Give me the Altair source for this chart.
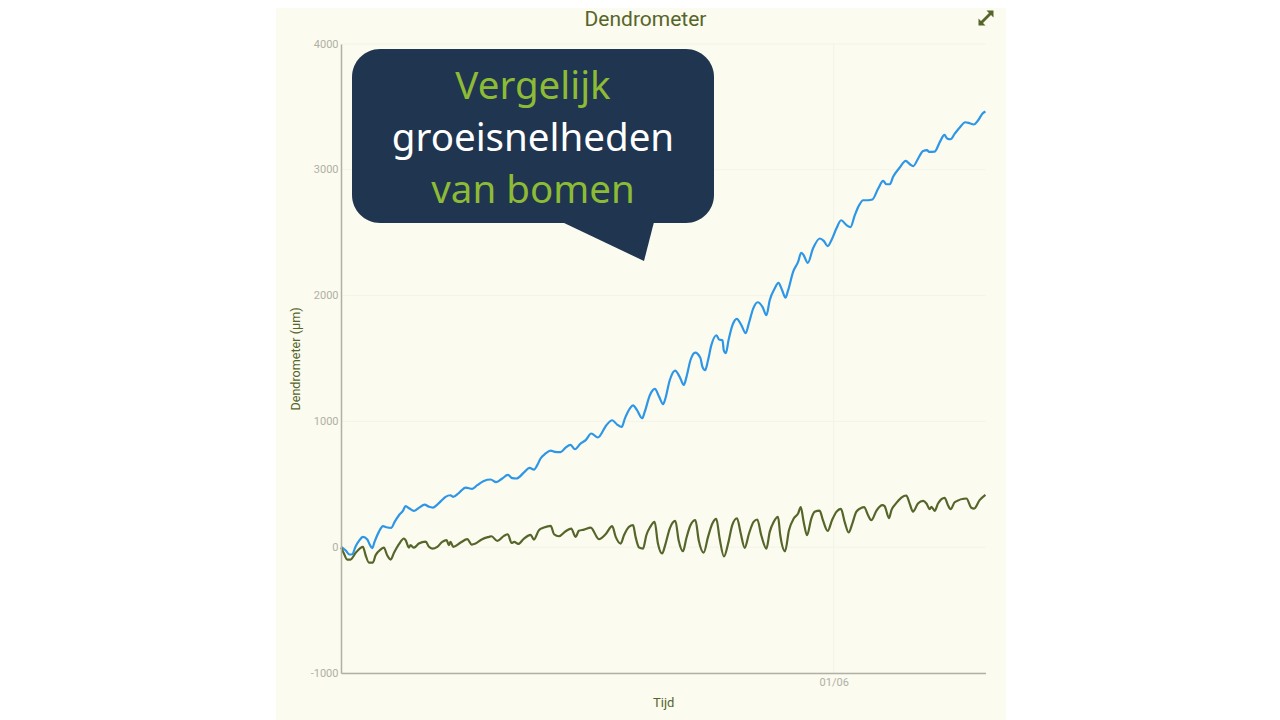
import altair as alt
import pandas as pd

# dagen t.o.v. 1 juni
blauw_dag = [-23.79, -23.58, -23.39, -23.26, -23.09, -22.93, -22.74, -22.53, -22.42, -22.29, -22.18, -21.97, -21.77, -21.61, -21.37, -21.21, -21.00, -20.81, -20.68, -20.49, -20.28, -20.04, -19.76, -19.55, -19.36, -19.15, -18.96, -18.75, -18.51, -18.39, -18.10, -17.78, -17.46, -17.22, -16.90, -16.57, -16.30, -16.01, -15.74, -15.53, -15.33, -14.96, -14.69, -14.48, -14.32, -14.16, -13.92, -13.67, -13.47, -13.19, -12.95, -12.71, -12.50, -12.23, -11.98, -11.71, -11.39, -10.98, -10.70, -10.46, -10.24, -10.09, -9.85, -9.69, -9.50, -9.25, -9.13, -8.88, -8.64, -8.43, -8.24, -8.13, -7.92, -7.66, -7.44, -7.24, -7.11, -6.92, -6.69, -6.44, -6.34, -6.21, -6.07, -5.91, -5.66, -5.54, -5.37, -5.31, -5.21, -5.08, -4.89, -4.68, -4.46, -4.25, -4.10, -3.89, -3.67, -3.44, -3.25, -3.09, -2.85, -2.67, -2.49, -2.33, -2.20, -1.96, -1.72, -1.57, -1.45, -1.25, -1.00, -0.67, -0.48, -0.29, -0.11, 0.13, 0.36, 0.62, 0.81, 1.02, 1.23, 1.42, 1.66, 1.87, 2.15, 2.39, 2.55, 2.71, 2.87, 3.19, 3.48, 3.68, 3.84, 4.08, 4.32, 4.51, 4.61, 4.88, 5.13, 5.35, 5.48, 5.64, 5.85, 6.09, 6.35, 6.57, 6.77, 6.98, 7.19, 7.33]
blauw_um = [3, -24, -58, -56, 8, 50, 82, 61, 24, -8, 42, 122, 167, 159, 154, 201, 254, 289, 326, 307, 289, 313, 339, 321, 315, 339, 368, 400, 413, 400, 432, 474, 464, 493, 527, 538, 517, 546, 575, 549, 546, 594, 631, 617, 652, 705, 745, 768, 758, 755, 792, 813, 779, 824, 851, 904, 872, 970, 1009, 975, 956, 1022, 1102, 1128, 1089, 1025, 1075, 1208, 1258, 1195, 1137, 1182, 1327, 1404, 1354, 1290, 1354, 1486, 1547, 1505, 1433, 1407, 1486, 1606, 1685, 1651, 1645, 1566, 1542, 1645, 1765, 1815, 1765, 1701, 1778, 1897, 1947, 1910, 1844, 1963, 2056, 2101, 2043, 1984, 2043, 2189, 2268, 2340, 2321, 2260, 2374, 2454, 2435, 2393, 2440, 2533, 2599, 2560, 2544, 2639, 2719, 2758, 2758, 2764, 2851, 2912, 2885, 2885, 2944, 3018, 3071, 3044, 3029, 3090, 3150, 3156, 3143, 3145, 3222, 3278, 3249, 3243, 3288, 3336, 3378, 3370, 3360, 3394, 3447, 3463]

groen_dag = [-23.79, -23.66, -23.50, -23.34, -23.09, -22.74, -22.61, -22.45, -22.26, -22.13, -21.89, -21.73, -21.57, -21.40, -21.24, -21.00, -20.76, -20.68, -20.52, -20.44, -20.28, -20.04, -19.71, -19.55, -19.39, -19.15, -18.91, -18.70, -18.59, -18.51, -18.38, -18.02, -17.70, -17.49, -17.30, -16.98, -16.65, -16.53, -16.25, -15.93, -15.74, -15.56, -15.43, -15.24, -14.96, -14.64, -14.48, -14.24, -14.00, -13.67, -13.51, -13.27, -12.95, -12.68, -12.47, -12.31, -12.06, -11.74, -11.34, -11.02, -10.70, -10.53, -10.29, -10.13, -9.89, -9.69, -9.57, -9.40, -9.21, -9.05, -8.86, -8.65, -8.49, -8.29, -8.12, -7.92, -7.65, -7.49, -7.28, -7.12, -6.92, -6.68, -6.52, -6.28, -6.07, -5.86, -5.67, -5.51, -5.30, -5.10, -4.90, -4.67, -4.49, -4.30, -4.09, -3.87, -3.69, -3.50, -3.25, -3.09, -2.90, -2.69, -2.58, -2.35, -2.16, -1.93, -1.72, -1.59, -1.45, -1.29, -1.08, -0.92, -0.68, -0.52, -0.29, -0.08, 0.13, 0.35, 0.53, 0.72, 0.90, 1.09, 1.34, 1.47, 1.66, 1.82, 2.06, 2.35, 2.46, 2.67, 2.79, 3.03, 3.27, 3.51, 3.67, 3.83, 4.07, 4.32, 4.48, 4.64, 4.72, 4.88, 5.04, 5.36, 5.52, 5.65, 5.85, 6.41, 6.65, 6.78, 7.05, 7.33]
groen_um = [-2, -50, -98, -98, -45, 3, -64, -122, -122, -64, -19, -3, -64, -98, -45, 24, 69, 56, -3, 16, -3, 29, 45, 3, -11, 3, 42, 56, 16, 42, 3, 37, 64, 21, 29, 64, 82, 87, 50, 90, 103, 34, 42, 26, 69, 98, 61, 135, 156, 170, 103, 87, 127, 148, 82, 130, 140, 156, 64, 103, 167, 82, 29, 95, 162, 175, 82, -3, -11, 95, 162, 201, 29, -50, 29, 148, 209, 56, -32, 69, 175, 215, 56, -43, 82, 188, 225, 69, -74, 29, 175, 230, 109, -5, 109, 201, 220, 95, -11, 122, 201, 241, 95, -32, 135, 228, 268, 318, 201, 95, 228, 281, 291, 215, 130, 215, 281, 305, 201, 117, 188, 281, 313, 318, 254, 215, 289, 334, 326, 231, 294, 352, 395, 411, 347, 283, 347, 368, 347, 302, 321, 289, 347, 392, 334, 302, 358, 387, 313, 307, 374, 416]

y_ticks = [-1000, 0, 1000, 2000, 3000, 4000]
callout_regels = ["Vergelijk", "groeisnelheden", "van bomen"]
callout_kleuren = ["#8DBB35", "#FFFFFF", "#8DBB35"]

PANEEL = "#FBFBF0"
OLIJF = "#56652A"
BLAUW = "#2E96E6"
GRIJS = "#B0B0A4"
GRID = "#F3F3E6"
FONT = "Roboto"

juni = pd.Timestamp("2023-06-01")
df = pd.concat([
    pd.DataFrame({"dag": blauw_dag, "um": blauw_um, "boom": "blauw"}),
    pd.DataFrame({"dag": groen_dag, "um": groen_um, "boom": "groen"}),
])
df["tijd"] = juni + pd.to_timedelta(df["dag"], unit="D")

x_scale = alt.Scale(domain=[alt.DateTime(year=2023, month=5, date=8, hours=4, minutes=48),
                            alt.DateTime(year=2023, month=6, date=8, hours=8)], nice=False)
y_scale = alt.Scale(domain=[-1000, 4000], nice=False)
x_axis = alt.Axis(
    title="Tijd", values=[alt.DateTime(year=2023, month=6, date=1)], format="%d/%m",
    grid=False, ticks=False, domainColor=GRIJS, domainWidth=1.5, zindex=1,
    labelColor=GRIJS, labelFont=FONT, labelFontSize=11, labelPadding=3,
    titleColor=OLIJF, titleFont=FONT, titleFontSize=13, titleFontWeight="normal", titlePadding=9,
)
y_axis = alt.Axis(
    title="Dendrometer (µm)", values=y_ticks, labelExpr="'' + datum.value",
    grid=False, ticks=False, domainColor=GRIJS, domainWidth=1.5, zindex=1,
    labelColor=GRIJS, labelFont=FONT, labelFontSize=11, labelPadding=3,
    titleColor=OLIJF, titleFont=FONT, titleFontSize=12.6, titleFontWeight="normal", titlePadding=8,
)
eén = pd.DataFrame({"a": [0]})

# achtergrond van het paneel, onder alle lagen
paneel = alt.Chart(eén).mark_rect(color=PANEEL).encode(
    x=alt.value(-65), x2=alt.value(665), y=alt.value(-44), y2=alt.value(677)
)

grid_h = alt.Chart(pd.DataFrame({"um": y_ticks})).mark_rule(color=GRID, strokeWidth=1).encode(
    y=alt.Y("um:Q", scale=y_scale, axis=y_axis)
)
grid_v = alt.Chart(pd.DataFrame({"tijd": [juni]})).mark_rule(color=GRID, strokeWidth=1).encode(
    x=alt.X("tijd:T", scale=x_scale, axis=x_axis)
)

lijnen = alt.Chart(df).mark_line(strokeWidth=2.2, interpolate="monotone").encode(
    x=alt.X("tijd:T", scale=x_scale, axis=x_axis),
    y=alt.Y("um:Q", scale=y_scale, axis=y_axis),
    color=alt.Color("boom:N", scale=alt.Scale(domain=["blauw", "groen"], range=[BLAUW, OLIJF]), legend=None),
    detail="boom:N",
)

# tekstballon
ballon = alt.Chart(eén).mark_rect(color="#1F3550", cornerRadius=28).encode(
    x=alt.value(11), x2=alt.value(373), y=alt.value(5), y2=alt.value(179)
)
staart = alt.Chart(eén).mark_point(
    shape="M-46 -1 L46 -1 L36 38 Z", size=4, filled=True, opacity=1, color="#1F3550", strokeWidth=0
).encode(x=alt.value(267), y=alt.value(179))
tekst = [
    alt.Chart(eén).mark_text(
        text=regel, color=kleur, font="Noto Sans", fontSize=38.5, align="center", baseline="middle"
    ).encode(x=alt.value(192), y=alt.value(pos))
    for regel, kleur, pos in zip(callout_regels, callout_kleuren, [43, 95, 147])
]

titel = alt.Chart(eén).mark_text(
    text="Dendrometer", color=OLIJF, font=FONT, fontSize=21, align="center", baseline="middle"
).encode(x=alt.value(304.5), y=alt.value(-24))

icoon = alt.Chart(eén).mark_point(
    shape="M7.5 -7.5 L7.5 -0.5 L5 -3 L-3 5 L-0.5 7.5 L-7.5 7.5 L-7.5 0.5 L-5 3 L3 -5 L0.5 -7.5 Z",
    size=4, filled=True, opacity=1, color=OLIJF, strokeWidth=0,
).encode(x=alt.value(645), y=alt.value(-26))

chart = alt.layer(paneel, grid_h, grid_v, lijnen, ballon, staart, *tekst, titel, icoon).properties(
    width=644.5,
    height=629,
    padding={"left": 333, "top": 36, "right": 21, "bottom": 55},
    autosize=alt.AutoSizeParams(type="none"),
).configure_view(stroke=None)

chart.save("out.html", embed_options={"renderer": "svg", "actions": False})
